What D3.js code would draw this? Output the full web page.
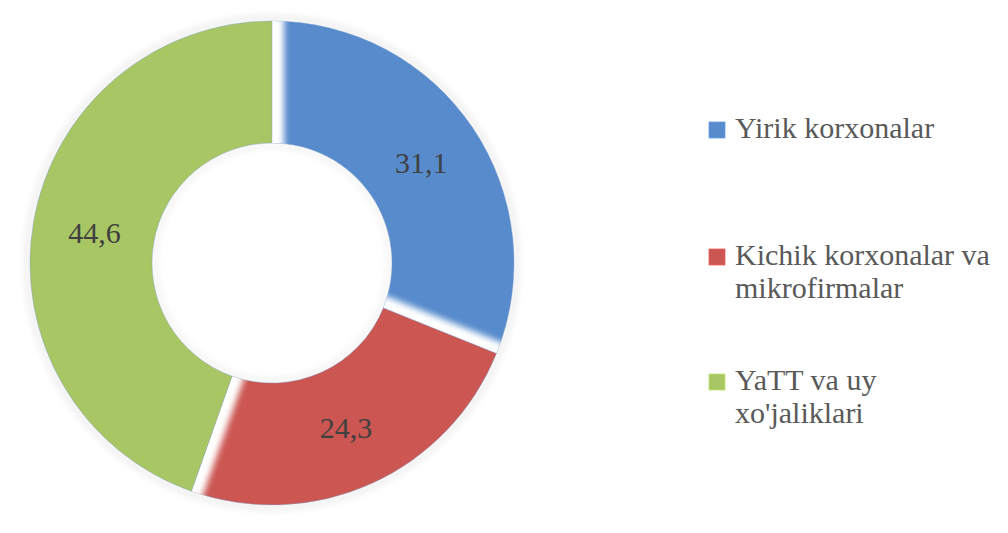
<!DOCTYPE html>
<html>
<head>
<meta charset="utf-8">
<script src="https://cdn.jsdelivr.net/npm/d3@7"></script>
<style>
  html, body { margin: 0; padding: 0; background: #ffffff; }
  svg { display: block; }
  text { font-family: "Liberation Serif", "Times New Roman", Times, "DejaVu Serif", serif; }
</style>
</head>
<body>
<svg id="chart" width="1008" height="533"></svg>
<script>
// ---- data ----
const categories = ["Yirik korxonalar", "Kichik korxonalar va mikrofirmalar", "YaTT va uy xo'jaliklari"];
const values = [31.1, 24.3, 44.6];
const valueLabels = ["31,1", "24,3", "44,6"];
const legendLines = [["Yirik korxonalar"], ["Kichik korxonalar va", "mikrofirmalar"], ["YaTT va uy", "xo'jaliklari"]];
const colors = ["#578bcc", "#cb5652", "#a8c663"];

// ---- layout ----
const svg = d3.select("#chart");
const cx = 272, cy = 263, rOuter = 242, rInner = 120;

const defs = svg.append("defs");
defs.append("filter").attr("id", "blurEdge")
  .attr("x", "-50%").attr("y", "-10%").attr("width", "200%").attr("height", "120%")
  .append("feGaussianBlur").attr("stdDeviation", 3.2);
defs.append("filter").attr("id", "glow")
  .attr("x", "-20%").attr("y", "-20%").attr("width", "140%").attr("height", "140%")
  .append("feGaussianBlur").attr("stdDeviation", 3);

const pie = d3.pie().sort(null).value(d => d)(values);
const arc = d3.arc().innerRadius(rInner).outerRadius(rOuter);
const labelArc = d3.arc().innerRadius(180).outerRadius(180);

const g = svg.append("g").attr("transform", `translate(${cx},${cy})`);

// faint outer / inner shadow
g.append("circle").attr("r", rOuter + 3).attr("fill", "none")
  .attr("stroke", "#ececec").attr("stroke-width", 5).attr("filter", "url(#glow)");
g.append("circle").attr("r", rInner - 3).attr("fill", "none")
  .attr("stroke", "#f0f0f0").attr("stroke-width", 4).attr("filter", "url(#glow)");

// edges of each slice that fade into white: [start, end]
const fadeEdges = [[true, true], [false, true], [false, false]];

pie.forEach((d, i) => {
  const path = arc(d);
  defs.append("clipPath").attr("id", "clip" + i).append("path").attr("d", path);
  g.append("path").attr("d", path).attr("fill", colors[i])
    .attr("stroke", "#7f9fcf").attr("stroke-width", 0.6).attr("stroke-opacity", 0.7);
  const cg = g.append("g").attr("clip-path", `url(#clip${i})`);
  const edges = [[d.startAngle, fadeEdges[i][0], 1], [d.endAngle, fadeEdges[i][1], -1]];
  edges.forEach(([a, on, dir]) => {
    if (!on) return;
    const deg = a * 180 / Math.PI;
    cg.append("rect")
      .attr("x", dir > 0 ? -8 : -12).attr("width", 20)
      .attr("y", -rOuter - 10).attr("height", rOuter + 10 - rInner + 20)
      .attr("fill", "#ffffff")
      .attr("filter", "url(#blurEdge)")
      .attr("transform", `rotate(${deg})`);
  });
});

// value labels
g.selectAll("text.val").data(pie).enter().append("text")
  .attr("class", "val")
  .attr("transform", d => `translate(${labelArc.centroid(d)})`)
  .attr("text-anchor", "middle").attr("dy", "0.35em")
  .attr("font-size", 30).attr("fill", "#404040")
  .text((d, i) => valueLabels[i]);

// legend
const legendX = 709, textX = 735, lineH = 33;
const legendY = [138, 265, 390];
const lg = svg.append("g");
legendLines.forEach((lines, i) => {
  lg.append("rect").attr("x", legendX).attr("y", legendY[i] - 16).attr("width", 16).attr("height", 16)
    .attr("fill", colors[i]).attr("stroke", d3.color(colors[i]).brighter(0.4)).attr("stroke-width", 0.8);
  lines.forEach((t, j) => {
    lg.append("text").attr("x", textX).attr("y", legendY[i] + j * lineH)
      .attr("font-size", 30).attr("fill", "#595959")
      .text(t);
  });
});
</script>
</body>
</html>
